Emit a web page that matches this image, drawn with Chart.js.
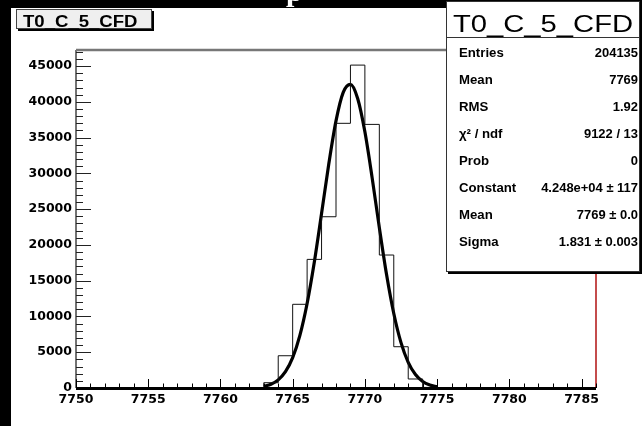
<!DOCTYPE html>
<html>
<head>
<meta charset="utf-8">
<script src="https://cdn.jsdelivr.net/npm/chart.js@4.4.1/dist/chart.umd.min.js"></script>
<style>
  html, body { margin: 0; padding: 0; background: #fff; }
  #wrap { width: 642px; height: 426px; }
</style>
</head>
<body>
<div id="wrap"><canvas id="c" width="642" height="426"></canvas></div>
<script>
// histogram: low edge of each 1-unit bin and its content
const binLow = [7762, 7763, 7764, 7765, 7766, 7767, 7768, 7769, 7770, 7771, 7772, 7773, 7774];
const binCounts = [40, 740, 4510, 11700, 17980, 23940, 37000, 45140, 36850, 18590, 5770, 1260, 80];

// gaussian fit curve as drawn
const fitX = [7763, 7763.5, 7764, 7764.5, 7765, 7765.5, 7766, 7766.5, 7767, 7767.5, 7768, 7768.5,
  7769, 7769.5, 7770, 7770.5, 7771, 7771.5, 7772, 7772.5, 7773, 7773.5, 7774, 7774.5, 7775];
const fitY = [224, 522, 1133, 2275, 4245, 7353, 11810, 17610, 24380, 31310, 37340, 41325,
  42450, 40470, 35810, 29410, 22420, 15860, 10420, 6347, 3590, 1886, 919, 415, 175];

const xRange = [7750, 7786];
const yRange = [0, 47250];
const xTickVals = [7750, 7755, 7760, 7765, 7770, 7775, 7780, 7785];
const yTickVals = [0, 5000, 10000, 15000, 20000, 25000, 30000, 35000, 40000, 45000];

const histTitle = 'T0_C_5_CFD';
const statLabels = ['Entries', 'Mean', 'RMS', 'χ² / ndf', 'Prob', 'Constant', 'Mean', 'Sigma'];
const statValues = ['204135', '7769', '1.92', '9122 / 13', '0', '4.248e+04 ± 117', '7769 ± 0.0', '1.831 ± 0.003'];

const histPts = [{ x: xRange[0], y: 0 }, { x: binLow[0], y: 0 }];
binLow.forEach((b, i) => histPts.push({ x: b, y: binCounts[i] }));
histPts.push({ x: binLow[binLow.length - 1] + 1, y: 0 }, { x: xRange[1], y: 0 });
const fitPts = fitX.map((x, i) => ({ x, y: fitY[i] }));

function wideText(ctx, txt, x, y, sx, align) {
  ctx.save();
  ctx.translate(x, y);
  ctx.scale(sx, 1);
  ctx.textAlign = align;
  ctx.fillText(txt, 0, 0);
  ctx.restore();
}

const rootFrame = {
  id: 'rootFrame',
  beforeDraw(chart) {
    const ctx = chart.ctx;
    ctx.save();
    ctx.fillStyle = '#fff';
    ctx.fillRect(0, 0, 642, 426);
    ctx.fillStyle = '#000';
    ctx.fillRect(0, 0, 642, 8);
    ctx.fillRect(0, 0, 11, 426);
    // clipped tail of a glyph above the pad
    ctx.fillStyle = '#fff';
    ctx.font = 'bold 30px "Liberation Serif"';
    ctx.textBaseline = 'alphabetic';
    ctx.fillText('p', 286, 1);
    ctx.restore();
  },
  afterDraw(chart) {
    const ctx = chart.ctx;
    const a = chart.chartArea;
    const xs = chart.scales.x, ys = chart.scales.y;
    ctx.save();
    // y axis line and ticks (pointing inside)
    ctx.strokeStyle = '#444';
    ctx.lineWidth = 1.5;
    ctx.beginPath();
    ctx.moveTo(a.left, a.top); ctx.lineTo(a.left, a.bottom);
    ctx.stroke();
    ctx.lineWidth = 1;
    ctx.strokeStyle = '#222';
    ctx.beginPath();
    for (let v = 0; v <= yRange[1]; v += 1000) {
      const py = Math.round(ys.getPixelForValue(v)) + 0.5;
      const len = v % 5000 === 0 ? 15 : 7;
      ctx.moveTo(a.left, py); ctx.lineTo(a.left + len, py);
    }
    ctx.stroke();
    // top frame line
    ctx.strokeStyle = '#777';
    ctx.lineWidth = 2.5;
    ctx.beginPath();
    ctx.moveTo(a.left, a.top); ctx.lineTo(a.right, a.top);
    ctx.stroke();
    // right frame line (red)
    ctx.strokeStyle = '#b01010';
    ctx.lineWidth = 1.5;
    ctx.beginPath();
    ctx.moveTo(a.right, a.top); ctx.lineTo(a.right, a.bottom);
    ctx.stroke();
    // x axis line and ticks (pointing up)
    ctx.strokeStyle = '#000';
    ctx.lineWidth = 3;
    ctx.beginPath();
    ctx.moveTo(a.left, a.bottom + 0.5); ctx.lineTo(a.right, a.bottom + 0.5);
    ctx.stroke();
    ctx.lineWidth = 1;
    ctx.beginPath();
    for (let v = xRange[0]; v <= xRange[1]; v += 1) {
      const px = Math.round(xs.getPixelForValue(v)) + 0.5;
      const len = v % 5 === 0 ? 9 : 4.5;
      ctx.moveTo(px, a.bottom); ctx.lineTo(px, a.bottom - len);
    }
    ctx.stroke();

    // title box top-left
    ctx.fillStyle = '#000';
    ctx.fillRect(18, 11, 136, 20);
    ctx.fillStyle = '#efefef';
    ctx.fillRect(16, 9, 136, 20);
    ctx.strokeStyle = '#444';
    ctx.lineWidth = 1;
    ctx.strokeRect(16.5, 9.5, 135, 19);
    ctx.fillStyle = '#000';
    ctx.font = 'bold 16px "Liberation Sans"';
    ctx.textBaseline = 'alphabetic';
    wideText(ctx, histTitle, 23, 26.5, 1.16, 'left');

    // stats box top-right
    const bx = 446, by = 1, bw = 194, bh = 271;
    ctx.fillStyle = '#000';
    ctx.fillRect(bx + 2, by + 2, bw, bh);
    ctx.fillStyle = '#fff';
    ctx.fillRect(bx, by, bw, bh);
    ctx.strokeStyle = '#333';
    ctx.strokeRect(bx + 0.5, by + 0.5, bw - 1, bh - 1);
    ctx.beginPath();
    ctx.moveTo(bx, 37.5); ctx.lineTo(bx + bw, 37.5);
    ctx.stroke();
    ctx.fillStyle = '#000';
    ctx.font = '23px "Liberation Sans"';
    wideText(ctx, histTitle, 543, 31.5, 1.27, 'center');
    ctx.font = 'bold 12px "Liberation Sans"';
    ctx.textBaseline = 'middle';
    statLabels.forEach((lab, i) => {
      const yy = 53.5 + i * 27;
      wideText(ctx, lab, 459, yy, 1.1, 'left');
      wideText(ctx, statValues[i], 638, yy, 1.08, 'right');
    });
    ctx.restore();
  }
};

new Chart(document.getElementById('c'), {
  type: 'line',
  data: {
    datasets: [
      {
        label: 'hist',
        data: histPts,
        stepped: 'before',
        borderColor: '#111',
        borderWidth: 1,
        pointRadius: 0,
        fill: false
      },
      {
        label: 'fit',
        data: fitPts,
        borderColor: '#000',
        borderWidth: 3.2,
        pointRadius: 0,
        cubicInterpolationMode: 'monotone',
        fill: false
      }
    ]
  },
  options: {
    responsive: false,
    animation: false,
    layout: { padding: { left: 0, top: 50, right: 46, bottom: 0 } },
    plugins: { legend: { display: false }, tooltip: { enabled: false } },
    scales: {
      x: {
        type: 'linear',
        min: xRange[0],
        max: xRange[1],
        grid: { display: false, drawTicks: false },
        border: { display: false },
        afterFit: s => { s.height = 38; },
        afterBuildTicks: s => { s.ticks = xTickVals.map(v => ({ value: v })); },
        ticks: {
          autoSkip: false,
          maxRotation: 0,
          padding: 4,
          color: '#000',
          font: { family: 'DejaVu Sans', weight: 'bold', size: 12.5 },
          callback: v => String(v)
        }
      },
      y: {
        type: 'linear',
        min: yRange[0],
        max: yRange[1],
        grid: { display: false, drawTicks: false },
        border: { display: false },
        afterFit: s => { s.width = 76; },
        afterBuildTicks: s => { s.ticks = yTickVals.map(v => ({ value: v })); },
        ticks: {
          autoSkip: false,
          padding: 4,
          color: '#000',
          font: { family: 'DejaVu Sans', weight: 'bold', size: 12.5 },
          callback: v => String(v)
        }
      }
    }
  },
  plugins: [rootFrame]
});
</script>
</body>
</html>
